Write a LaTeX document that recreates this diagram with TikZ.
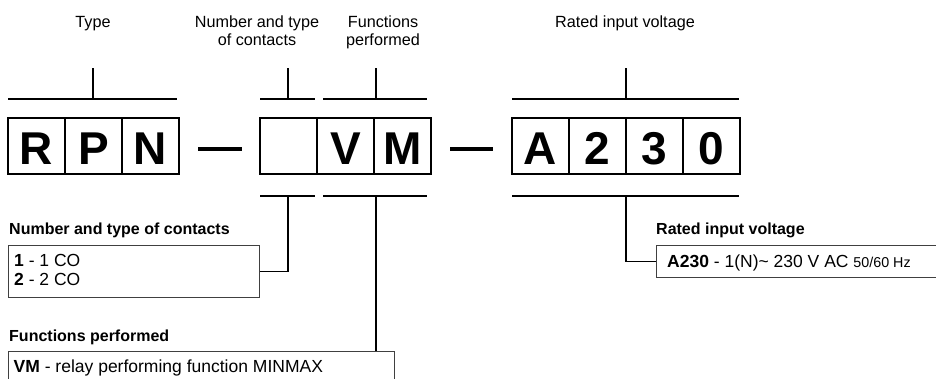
\documentclass[tikz,border=0pt]{standalone}
\usepackage{fontspec}
\setmainfont{Liberation Sans}
\begin{document}
\begin{tikzpicture}[x=1pt,y=-1pt,
  cell/.style={draw, line width=2.8pt, minimum width=57pt, minimum height=56pt, inner sep=0pt,
    font=\fontsize{46}{46}\selectfont\bfseries, text height=38pt, text depth=0pt},
  lbl/.style={font=\fontsize{16.2}{18.5}\selectfont, align=center, anchor=base, inner sep=0pt},
  head/.style={font=\fontsize{16}{18}\selectfont\bfseries, anchor=base west, inner sep=0pt},
  item/.style={font=\fontsize{17.5}{18.4}\selectfont, anchor=base west, inner sep=0pt},
  infobox/.style={draw=black!75, line width=0.9pt, anchor=north west, inner sep=0pt},
  brk/.style={line width=1.1pt},
  dashline/.style={line width=3.6pt}]

\useasboundingbox (0,0) rectangle (936,379);

% code cells
\node[cell] (c1) at (36.5,146) {R};
\node[cell] (c2) at (93.5,146) {P};
\node[cell] (c3) at (150.5,146) {N};
\node[cell] (c4) at (288.5,146) {};
\node[cell] (c5) at (345.5,146) {V};
\node[cell] (c6) at (402.5,146) {M};
\node[cell] (c7) at (540.5,146) {A};
\node[cell] (c8) at (597.5,146) {2};
\node[cell] (c9) at (654.5,146) {3};
\node[cell] (c10) at (711.5,146) {0};

% dashes
\coordinate (d1a) at (198,149); \coordinate (d1b) at (242,149);
\coordinate (d2a) at (450,149); \coordinate (d2b) at (493,149);
\draw[dashline] (d1a) -- (d1b);
\draw[dashline] (d2a) -- (d2b);

% top labels
\node[lbl] (lt) at (93,27.5) {Type};
\node[lbl] (lc) at (257,46) {Number and type\\of contacts};
\node[lbl] (lf) at (383,46) {Functions\\performed};
\node[lbl] (lv) at (625,27.5) {Rated input voltage};

% top brackets
\coordinate (t1l) at (8,99);   \coordinate (t1r) at (177,99);  \coordinate (t1m) at (93,99);  \coordinate (t1u) at (93,68);
\coordinate (t2l) at (260,99); \coordinate (t2r) at (315,99);  \coordinate (t2m) at (288,99); \coordinate (t2u) at (288,68);
\coordinate (t3l) at (323,99); \coordinate (t3r) at (427,99);  \coordinate (t3m) at (376,99); \coordinate (t3u) at (376,68);
\coordinate (t4l) at (512,99); \coordinate (t4r) at (739,99);  \coordinate (t4m) at (626,99); \coordinate (t4u) at (626,68);
\draw[brk] (t1l) -- (t1r); \draw[brk] (t1m) -- (t1u);
\draw[brk] (t2l) -- (t2r); \draw[brk] (t2m) -- (t2u);
\draw[brk] (t3l) -- (t3r); \draw[brk] (t3m) -- (t3u);
\draw[brk] (t4l) -- (t4r); \draw[brk] (t4m) -- (t4u);

% bottom brackets
\coordinate (b2l) at (260,196); \coordinate (b2r) at (315,196); \coordinate (b2m) at (288,196);
\coordinate (b3l) at (323,196); \coordinate (b3r) at (427,196); \coordinate (b3m) at (376,196);
\coordinate (b4l) at (512,196); \coordinate (b4r) at (739,196); \coordinate (b4m) at (626,196);
\draw[brk] (b2l) -- (b2r);
\draw[brk] (b3l) -- (b3r);
\draw[brk] (b4l) -- (b4r);

% info boxes
\node[infobox, minimum width=251pt, minimum height=52pt] (ib1) at (8,245) {};
\node[infobox, minimum width=386pt, minimum height=60pt] (ib2) at (8,351) {};
\node[infobox, minimum width=300pt, minimum height=32pt] (ib3) at (656,245) {};

\node[head] (h1) at (9,234.3) {Number and type of contacts};
\node[head] (h2) at (9,341.7) {Functions performed};
\node[head] (h3) at (656,234.3) {Rated input voltage};

\node[item] (i1) at (14,266.7) {\textbf{1} - 1 CO};
\node[item] (i2) at (14,285.5) {\textbf{2} - 2 CO};
\node[item] (i3) at (13.5,372.7) {\textbf{VM} - relay performing function MINMAX};
\node[item] (i4) at (667,267) {\textbf{A230} - 1(N)\char"007E{} 230 V AC {\fontsize{14.3}{16}\selectfont 50/60 Hz}};

% connectors
\draw[brk] (b2m) |- (ib1.east);
\draw[brk] (b3m) -- (b3m |- ib2.north);
\draw[brk] (b4m) |- (ib3.west);
\end{tikzpicture}
\end{document}
